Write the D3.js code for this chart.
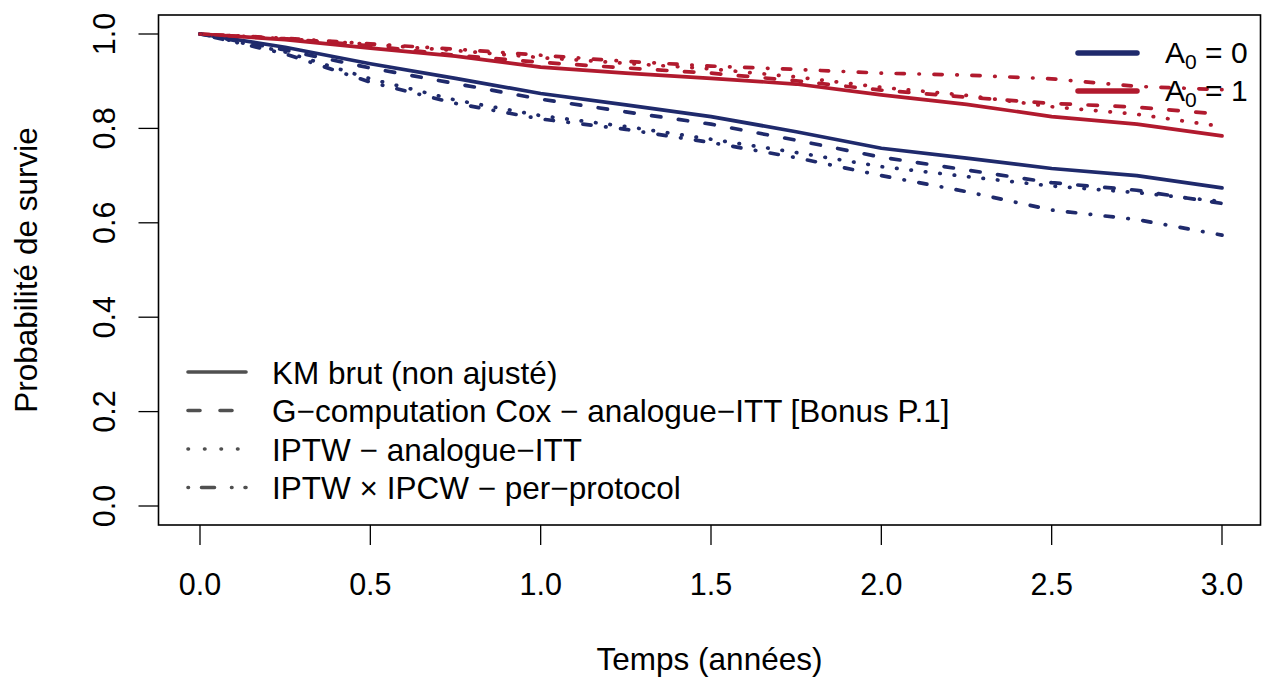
<!DOCTYPE html>
<html>
<head>
<meta charset="utf-8">
<script src="https://cdn.jsdelivr.net/npm/d3@7"></script>
<style>
  body { margin: 0; background: #fff; }
  svg { display: block; }
  text { font-family: "Liberation Sans", Arial, sans-serif; fill: #000; }
</style>
</head>
<body>
<svg id="chart" width="1263" height="677"></svg>
<script>
// time grid (years)
const times = [0, 0.25, 0.5, 0.75, 1, 1.25, 1.5, 1.75, 2, 2.25, 2.5, 2.75, 3];

// A0 = 0
const km0       = [1, 0.972, 0.937, 0.906, 0.874, 0.850, 0.825, 0.793, 0.758, 0.737, 0.715, 0.700, 0.674];
const gcomp0    = [1, 0.966, 0.928, 0.895, 0.862, 0.835, 0.809, 0.775, 0.739, 0.712, 0.685, 0.669, 0.641];
const iptw0     = [1, 0.962, 0.905, 0.860, 0.827, 0.804, 0.777, 0.749, 0.719, 0.698, 0.678, 0.664, 0.645];
const iptwIpcw0 = [1, 0.958, 0.898, 0.853, 0.820, 0.798, 0.770, 0.738, 0.700, 0.666, 0.627, 0.607, 0.574];

// A0 = 1
const km1       = [1, 0.988, 0.970, 0.953, 0.930, 0.917, 0.906, 0.894, 0.871, 0.851, 0.825, 0.809, 0.784];
const gcomp1    = [1, 0.990, 0.975, 0.955, 0.940, 0.928, 0.917, 0.901, 0.881, 0.866, 0.853, 0.845, 0.830];
const iptw1     = [1, 0.990, 0.978, 0.965, 0.950, 0.938, 0.926, 0.909, 0.887, 0.870, 0.846, 0.830, 0.804];
const iptwIpcw1 = [1, 0.991, 0.979, 0.968, 0.955, 0.942, 0.932, 0.925, 0.917, 0.913, 0.905, 0.889, 0.882];

const methods = [
  "KM brut (non ajusté)",
  "G\u2212computation Cox \u2212 analogue\u2212ITT [Bonus P.1]",
  "IPTW \u2212 analogue\u2212ITT",
  "IPTW \u00d7 IPCW \u2212 per\u2212protocol"
];
const groups = ["0", "1"];
const xTicks = [0, 0.5, 1, 1.5, 2, 2.5, 3];
const yTicks = [0, 0.2, 0.4, 0.6, 0.8, 1];

const seriesByGroup = [
  [km0, gcomp0, iptw0, iptwIpcw0],
  [km1, gcomp1, iptw1, iptwIpcw1]
];

// styles
const groupColors = ["#1f2a6c", "#b11a2e"];
const dashes = [null, "9.4,17.6", "0.5,14", "0.5,14.6,8.2,14.6"];
const legendDashes = [null, "12,20", "0.5,16", "0.5,13,13,17"];
const tickSize = 30.5;
const labSize = 31.5;

const svg = d3.select("#chart");

const x = d3.scaleLinear().domain([0, 3]).range([200, 1222]);
const y = d3.scaleLinear().domain([0, 1]).range([506, 34]);

const box = { left: 158.5, right: 1260.5, top: 15, bottom: 525 };

function label(g, px, py, txt, opts = {}) {
  const rot = opts.rotate ? " rotate(-90)" : "";
  return g.append("text")
    .attr("transform", `translate(${px},${py})${rot}`)
    .attr("text-anchor", opts.anchor || "middle")
    .style("font-size", (opts.size || labSize) + "px")
    .text(txt);
}

// curves
const line = d3.line()
  .x((d, i) => x(times[i]))
  .y(d => y(d));

const curves = svg.append("g").attr("fill", "none");
methods.forEach((m, k) => {
  groups.forEach((gname, gi) => {
    curves.append("path")
      .datum(seriesByGroup[gi][k])
      .attr("d", line)
      .attr("stroke", groupColors[gi])
      .attr("stroke-width", 3.7)
      .attr("stroke-linecap", "round")
      .attr("stroke-linejoin", "round")
      .attr("stroke-dasharray", dashes[k]);
  });
});

// frame
svg.append("rect")
  .attr("x", box.left).attr("y", box.top)
  .attr("width", box.right - box.left).attr("height", box.bottom - box.top)
  .attr("fill", "none").attr("stroke", "#000").attr("stroke-width", 1.6);

// x axis
const xa = svg.append("g");
xa.selectAll("line").data(xTicks).join("line")
  .attr("x1", d => x(d)).attr("x2", d => x(d))
  .attr("y1", box.bottom).attr("y2", box.bottom + 20)
  .attr("stroke", "#000").attr("stroke-width", 1.3);
xTicks.forEach(t => label(xa, x(t), 595, d3.format(".1f")(t), { size: tickSize }));
label(xa, (box.left + box.right) / 2, 670, "Temps (années)");

// y axis
const ya = svg.append("g");
ya.selectAll("line").data(yTicks).join("line")
  .attr("x1", box.left - 20).attr("x2", box.left)
  .attr("y1", d => y(d)).attr("y2", d => y(d))
  .attr("stroke", "#000").attr("stroke-width", 1.3);
yTicks.forEach(t => label(ya, 115, y(t), d3.format(".1f")(t), { rotate: true, size: tickSize }));
label(ya, 37, (box.top + box.bottom) / 2, "Probabilité de survie", { rotate: true });

// legend: methods (bottom left)
const lg = svg.append("g");
methods.forEach((m, k) => {
  const ly = 372 + k * 38.5;
  lg.append("line")
    .attr("x1", 188).attr("x2", 246)
    .attr("y1", ly).attr("y2", ly)
    .attr("stroke", "#505050")
    .attr("stroke-width", 3.6)
    .attr("stroke-linecap", "round")
    .attr("stroke-dasharray", legendDashes[k]);
  label(lg, 272, ly + 11.5, m, { anchor: "start" });
});

// legend: groups (top right)
const lg2 = svg.append("g");
groups.forEach((gname, gi) => {
  const ly = 53 + gi * 38;
  lg2.append("line")
    .attr("x1", 1078).attr("x2", 1137)
    .attr("y1", ly).attr("y2", ly)
    .attr("stroke", groupColors[gi])
    .attr("stroke-width", 5.5)
    .attr("stroke-linecap", "round");
  const t = lg2.append("text")
    .attr("transform", `translate(1165,${ly + 9.5})`)
    .style("font-size", "30px");
  t.append("tspan").text("A");
  t.append("tspan").attr("dy", 6).style("font-size", "21px").text("0");
  t.append("tspan").attr("dy", -6).text("\u00a0=\u00a0" + gname);
});
</script>
</body>
</html>
